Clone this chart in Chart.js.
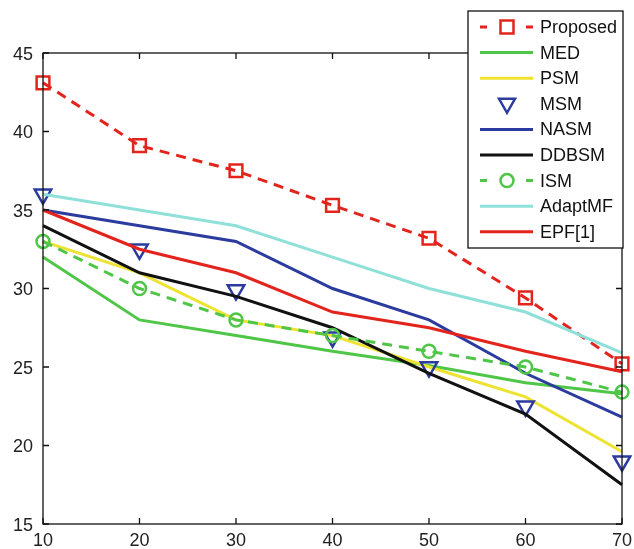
<!DOCTYPE html>
<html>
<head>
<meta charset="utf-8">
<script src="https://cdn.jsdelivr.net/npm/chart.js@4"></script>
<style>
  html, body { margin: 0; padding: 0; background: #fff; }
  #wrap { width: 634px; height: 549px; position: relative; }
</style>
</head>
<body>
<div id="wrap"><canvas id="c"></canvas></div>
<script>
const xValues = [10, 20, 30, 40, 50, 60, 70];
const yTicks = [15, 20, 25, 30, 35, 40, 45];

const proposed = [43.1, 39.1, 37.5, 35.3, 33.2, 29.4, 25.2];
const med      = [32.0, 28.0, 27.0, 26.0, 25.1, 24.0, 23.3];
const psm      = [33.0, 31.0, 28.0, 27.0, 25.0, 23.1, 19.6];
const msm      = [36.0, 32.5, 29.9, 26.9, 25.0, 22.5, 19.0];
const nasm     = [35.0, 34.0, 33.0, 30.0, 28.0, 24.6, 21.8];
const ddbsm    = [34.0, 31.0, 29.5, 27.5, 24.6, 22.0, 17.5];
const ism      = [33.0, 30.0, 28.0, 27.0, 26.0, 25.0, 23.4];
const adaptmf  = [36.0, 35.0, 34.0, 32.0, 30.0, 28.5, 25.9];
const epf      = [35.0, 32.5, 31.0, 28.5, 27.5, 26.0, 24.7];

const pts = arr => arr.map((v, i) => ({ x: xValues[i], y: v }));
const FONT = '"Liberation Sans", Arial, Helvetica, sans-serif';

const RED = '#e3241d', GREEN = '#4fc647', YELLOW = '#eee330', BLUE = '#2b3b9e',
      BLACK = '#111111', CYAN = '#8fe0d9';

function line(label, data, color, extra) {
  return Object.assign({
    label, data: pts(data), borderColor: color, backgroundColor: color,
    borderWidth: 3, pointRadius: 0, tension: 0, fill: false, clip: false
  }, extra || {});
}

const datasets = [
  line('Proposed', proposed, RED, { borderDash: [10, 7], pointStyle: 'rect', pointRadius: 9,
    pointBorderWidth: 2.5, pointBackgroundColor: 'rgba(0,0,0,0)', pointBorderColor: RED, order: 9 }),
  line('MED', med, GREEN, { order: 8 }),
  line('PSM', psm, YELLOW, { order: 7 }),
  line('MSM', msm, BLUE, { showLine: false, pointStyle: 'triangle', rotation: 180, pointRadius: 9.5,
    pointBorderWidth: 2.5, pointBackgroundColor: 'rgba(0,0,0,0)', pointBorderColor: BLUE, order: 6 }),
  line('NASM', nasm, BLUE, { order: 5 }),
  line('DDBSM', ddbsm, BLACK, { order: 4 }),
  line('ISM', ism, GREEN, { borderDash: [10, 7], pointStyle: 'circle', pointRadius: 6.5,
    pointBorderWidth: 2.5, pointBackgroundColor: 'rgba(0,0,0,0)', pointBorderColor: GREEN, order: 3 }),
  line('AdaptMF', adaptmf, CYAN, { order: 2 }),
  line('EPF[1]', epf, RED, { order: 1 })
];

// legend markers, same look as the plotted points
function drawMarker(ctx, ds, x, y) {
  if (!ds.pointRadius) return;
  ctx.save();
  ctx.setLineDash([]);
  ctx.strokeStyle = ds.pointBorderColor;
  ctx.lineWidth = ds.pointBorderWidth;
  ctx.beginPath();
  if (ds.pointStyle === 'rect') {
    ctx.rect(x - 6.5, y - 6.5, 13, 13);
  } else if (ds.pointStyle === 'circle') {
    ctx.arc(x, y, 6.5, 0, Math.PI * 2);
  } else if (ds.pointStyle === 'triangle') {
    ctx.moveTo(x - 8, y - 5);
    ctx.lineTo(x + 8, y - 5);
    ctx.lineTo(x, y + 9);
    ctx.closePath();
  }
  ctx.stroke();
  ctx.restore();
}

const axesBox = {
  id: 'axesBox',
  afterDatasetsDraw(chart) {
    const { ctx, chartArea: a, scales } = chart;
    ctx.save();
    ctx.strokeStyle = '#111';
    ctx.lineWidth = 1.3;
    ctx.strokeRect(a.left, a.top, a.right - a.left, a.bottom - a.top);
    const t = 6;
    ctx.beginPath();
    xValues.forEach(v => {
      const px = scales.x.getPixelForValue(v);
      ctx.moveTo(px, a.bottom); ctx.lineTo(px, a.bottom - t);
      ctx.moveTo(px, a.top); ctx.lineTo(px, a.top + t);
    });
    yTicks.forEach(v => {
      const py = scales.y.getPixelForValue(v);
      ctx.moveTo(a.left, py); ctx.lineTo(a.left + t, py);
      ctx.moveTo(a.right, py); ctx.lineTo(a.right - t, py);
    });
    ctx.stroke();
    ctx.restore();
  },
  afterDraw(chart) {
    const ctx = chart.ctx;
    const bx = 468, by = 11, bw = 155, bh = 237;
    ctx.save();
    ctx.fillStyle = '#fff';
    ctx.fillRect(bx, by, bw, bh);
    ctx.strokeStyle = '#111';
    ctx.lineWidth = 1.3;
    ctx.strokeRect(bx, by, bw, bh);
    ctx.font = '18px ' + FONT;
    ctx.textBaseline = 'middle';
    chart.data.datasets.forEach((ds, i) => {
      const y = 27 + i * 25.6;
      if (ds.showLine !== false) {
        ctx.save();
        ctx.strokeStyle = ds.borderColor;
        ctx.lineWidth = ds.borderWidth;
        ctx.beginPath();
        if (ds.borderDash) {
          ctx.moveTo(480, y); ctx.lineTo(487, y);
          ctx.moveTo(526, y); ctx.lineTo(533, y);
        } else {
          ctx.moveTo(480, y); ctx.lineTo(533, y);
        }
        ctx.stroke();
        ctx.restore();
      }
      drawMarker(ctx, ds, 507, y);
      ctx.fillStyle = '#111';
      ctx.fillText(ds.label, 540, y + 1);
    });
    ctx.restore();
  }
};

new Chart(document.getElementById('c'), {
  type: 'line',
  data: { datasets },
  options: {
    responsive: true,
    maintainAspectRatio: false,
    animation: false,
    layout: { padding: { top: 53, right: 11, left: 0, bottom: 0 } },
    plugins: { legend: { display: false }, tooltip: { enabled: false } },
    scales: {
      x: {
        type: 'linear', min: 10, max: 70,
        afterBuildTicks: s => { s.ticks = xValues.map(v => ({ value: v })); },
        afterFit: s => { s.height = 25; s.paddingLeft = 0; s.paddingRight = 0; },
        grid: { display: false, drawTicks: false },
        border: { display: false },
        ticks: { padding: 6, color: '#222', font: { family: FONT, size: 18 } }
      },
      y: {
        min: 15, max: 45,
        afterBuildTicks: s => { s.ticks = yTicks.map(v => ({ value: v })); },
        afterFit: s => { s.width = 43; },
        grid: { display: false, drawTicks: false },
        border: { display: false },
        ticks: { padding: 10, labelOffset: 2, color: '#222', font: { family: FONT, size: 18 } }
      }
    }
  },
  plugins: [axesBox]
});
</script>
</body>
</html>
